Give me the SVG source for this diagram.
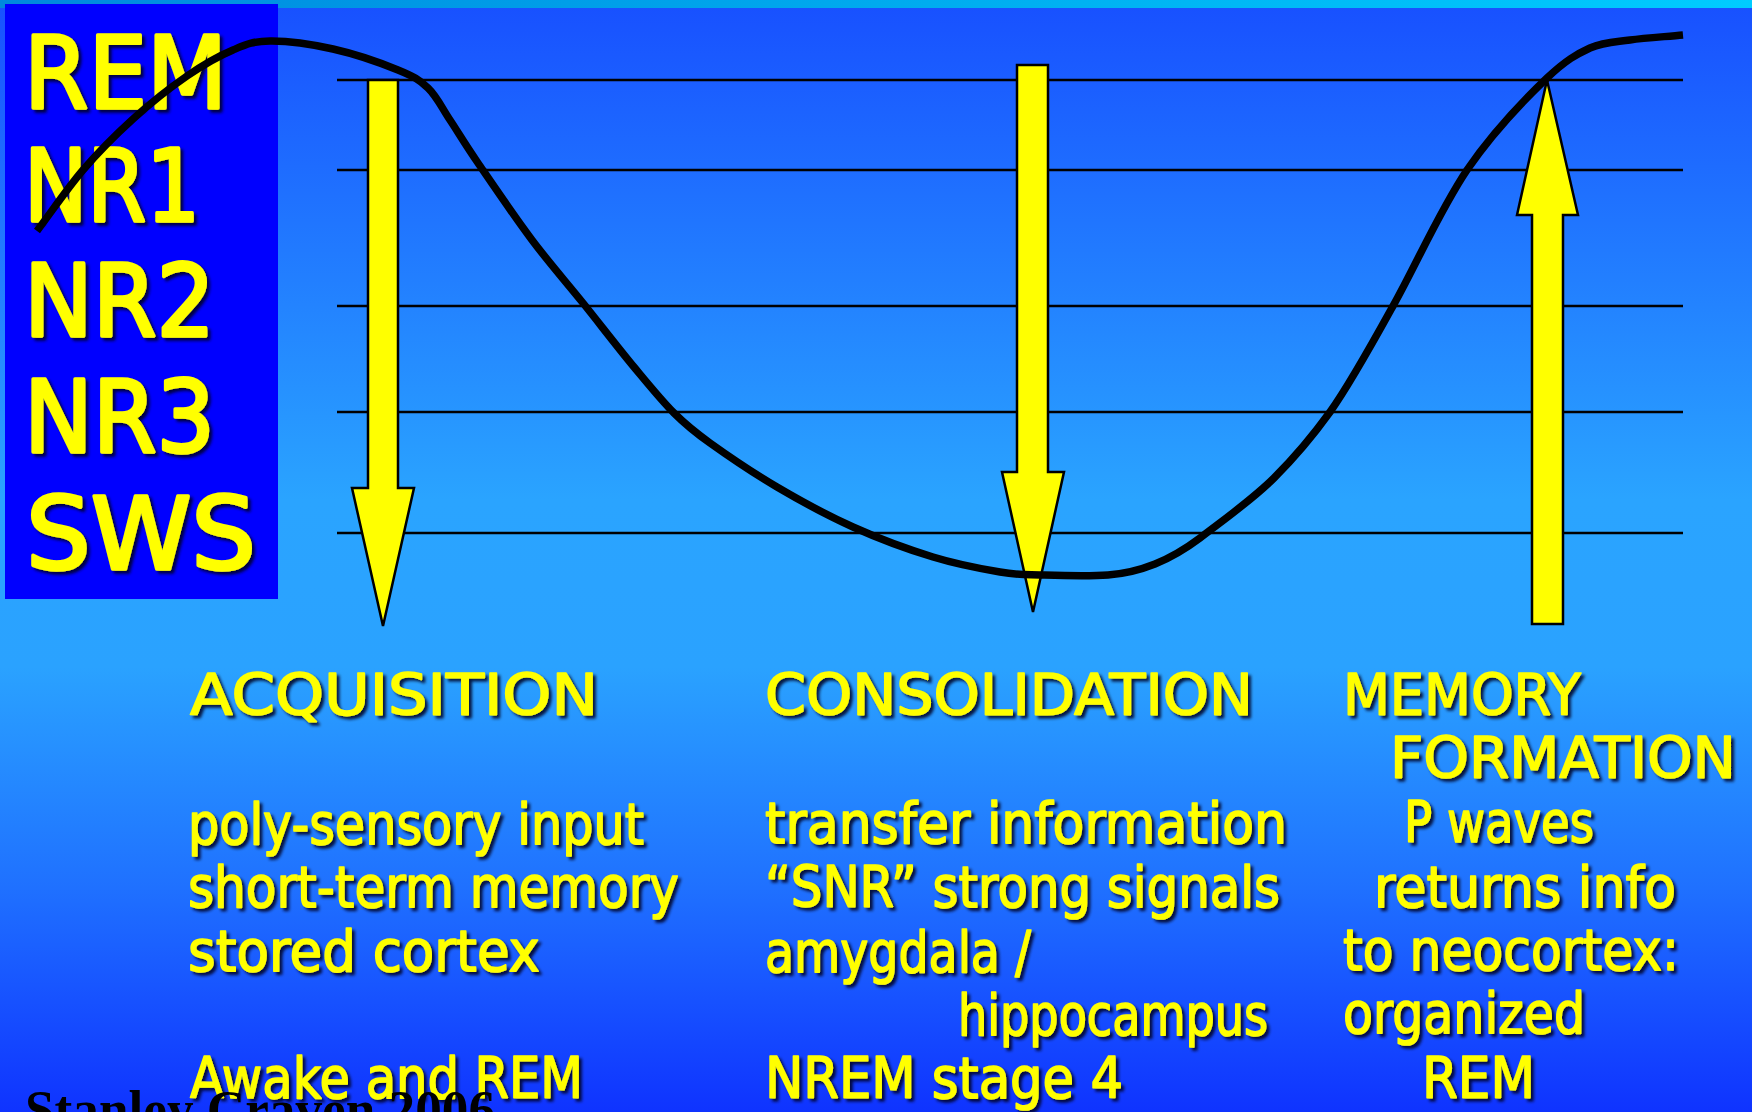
<svg xmlns="http://www.w3.org/2000/svg" width="1752" height="1112" viewBox="0 0 1752 1112">
<defs>
<linearGradient id="bg" x1="0" y1="0" x2="0" y2="1">
<stop offset="0" stop-color="#1850ff"/>
<stop offset="0.45" stop-color="#2aa4ff"/>
<stop offset="0.6" stop-color="#2aa2ff"/>
<stop offset="0.8" stop-color="#1f70ff"/>
<stop offset="1" stop-color="#0f33ff"/>
</linearGradient>
<linearGradient id="strip" x1="0" y1="0" x2="1" y2="0">
<stop offset="0" stop-color="#0088dd"/>
<stop offset="1" stop-color="#00ccff"/>
</linearGradient>
<filter id="sh" x="-10%" y="-20%" width="130%" height="150%">
<feDropShadow dx="3" dy="3" stdDeviation="1.6" flood-color="#000020" flood-opacity="0.85"/>
</filter>
</defs>
<style>
.y{fill:#ffff00;stroke:#ffff00;font-family:"DejaVu Sans",sans-serif;filter:url(#sh);stroke-linejoin:round}
.stage{font-size:100px;stroke-width:3.5}
.body{font-size:57px;stroke-width:1.6}
.grid line{stroke:#000;stroke-width:2.5}
.arrow{fill:#ffff00;stroke:#000;stroke-width:2.5;stroke-linejoin:miter}
.curve{fill:none;stroke:#000;stroke-width:7.5;stroke-linecap:butt;stroke-linejoin:round}
.foot{font-family:"Liberation Serif","Times New Roman",serif;font-weight:bold;font-size:54px;fill:#000}
</style>
<rect x="0" y="0" width="1752" height="1112" fill="url(#bg)"/>
<rect x="0" y="0" width="1752" height="8" fill="url(#strip)"/>

<g id="stage-box">
<rect x="5" y="4" width="273" height="595" fill="#0000ff"/>
<text class="y stage" x="24" y="108" textLength="203" lengthAdjust="spacingAndGlyphs">REM</text>
<text class="y stage" x="24" y="221" textLength="176" lengthAdjust="spacingAndGlyphs">NR1</text>
<text class="y stage" x="24" y="336" textLength="191" lengthAdjust="spacingAndGlyphs">NR2</text>
<text class="y stage" x="24" y="452" textLength="191" lengthAdjust="spacingAndGlyphs">NR3</text>
<text class="y stage" x="26" y="569" textLength="230" lengthAdjust="spacingAndGlyphs">SWS</text>
</g>

<g id="grid" class="grid">
<line x1="337" y1="80" x2="1683" y2="80"/>
<line x1="337" y1="170" x2="1683" y2="170"/>
<line x1="337" y1="306" x2="1683" y2="306"/>
<line x1="337" y1="412" x2="1683" y2="412"/>
<line x1="337" y1="533" x2="1683" y2="533"/>
</g>

<g id="arrow-acquisition">
<polygon class="arrow" points="368,80 398,80 398,488 414,488 383,626 352,488 368,488"/>
</g>
<g id="arrow-consolidation">
<polygon class="arrow" points="1017,65 1048,65 1048,472 1064,472 1033,612 1002,472 1017,472"/>
</g>
<g id="arrow-memory">
<polygon class="arrow" points="1532,624 1563,624 1563,215 1578,215 1547,80 1517,215 1532,215"/>
</g>

<g id="connectors">
<path class="curve" d="M37,231 C52.3,210.7 67,188.7 83,170 C99,151.3 115.7,134.7 133,119 C150.3,103.3 170.3,87.5 187,76 C203.7,64.5 219.2,55.8 233,50 C246.8,44.2 253.3,41.2 270,41 C286.7,40.8 311.7,44.2 333,49 C354.3,53.8 382.2,63.5 398,70 C413.8,76.5 419.3,79.7 428,88 C436.7,96.3 441.7,107.5 450,120 C458.3,132.5 464.3,143 478,163 C491.7,183 514.5,216.7 532,240 C549.5,263.3 566,281.8 583,303 C600,324.2 618.8,348.7 634,367 C649.2,385.3 661.3,400.3 674,413 C686.7,425.7 692.8,430.7 710,443 C727.2,455.3 753.2,473 777,487 C800.8,501 827,515.3 853,527 C879,538.7 908.5,549.5 933,557 C957.5,564.5 982.2,569 1000,572 C1017.8,575 1021.7,574.5 1040,575 C1058.3,575.5 1088,576.5 1108,575 C1128,573.5 1140,570 1155,564 C1170,558 1184,550 1200,538 C1222,521 1252,500 1274,478 C1296,456 1312,437 1330,412 C1350,384 1372,344 1393,306 C1416,265 1440,210 1467,170 C1493,132 1524,100 1547,78 C1566,60 1577,54 1590,48 C1604,42 1614.5,42.2 1630,40 C1645.5,37.8 1665.3,36.7 1683,35"/>
</g>

<g id="col-acquisition">
<text class="y body" x="190" y="715" textLength="408" lengthAdjust="spacingAndGlyphs">ACQUISITION</text>
<text class="y body" x="188" y="844" textLength="456" lengthAdjust="spacingAndGlyphs">poly-sensory input</text>
<text class="y body" x="188" y="907" textLength="491" lengthAdjust="spacingAndGlyphs">short-term memory</text>
<text class="y body" x="188" y="971" textLength="352" lengthAdjust="spacingAndGlyphs">stored cortex</text>
<text class="y body" x="190" y="1098" textLength="393" lengthAdjust="spacingAndGlyphs">Awake and REM</text>
</g>

<g id="col-consolidation">
<text class="y body" x="765" y="715" textLength="488" lengthAdjust="spacingAndGlyphs">CONSOLIDATION</text>
<text class="y body" x="765" y="843" textLength="522" lengthAdjust="spacingAndGlyphs">transfer information</text>
<text class="y body" x="765" y="907" textLength="515" lengthAdjust="spacingAndGlyphs">“SNR” strong signals</text>
<text class="y body" x="765" y="972" textLength="266" lengthAdjust="spacingAndGlyphs">amygdala /</text>
<text class="y body" x="958" y="1035" textLength="310" lengthAdjust="spacingAndGlyphs">hippocampus</text>
<text class="y body" x="765" y="1098" textLength="358" lengthAdjust="spacingAndGlyphs">NREM stage 4</text>
</g>

<g id="col-memory">
<text class="y body" x="1343" y="715" textLength="238" lengthAdjust="spacingAndGlyphs">MEMORY</text>
<text class="y body" x="1390" y="778" textLength="346" lengthAdjust="spacingAndGlyphs">FORMATION</text>
<text class="y body" x="1404" y="842" textLength="190" lengthAdjust="spacingAndGlyphs">P waves</text>
<text class="y body" x="1374" y="907" textLength="302" lengthAdjust="spacingAndGlyphs">returns info</text>
<text class="y body" x="1343" y="970" textLength="336" lengthAdjust="spacingAndGlyphs">to neocortex:</text>
<text class="y body" x="1343" y="1033" textLength="242" lengthAdjust="spacingAndGlyphs">organized</text>
<text class="y body" x="1422" y="1098" textLength="113" lengthAdjust="spacingAndGlyphs">REM</text>
</g>

<g id="footer">
<text class="foot" x="25" y="1128" textLength="470" lengthAdjust="spacingAndGlyphs">Stanley Craven 2006</text>
</g>
</svg>
